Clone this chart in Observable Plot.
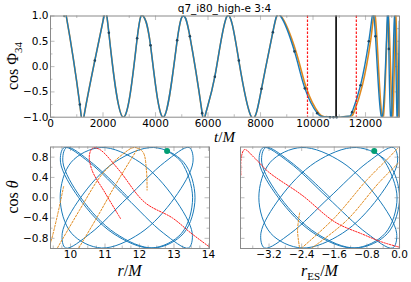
<!DOCTYPE html>
<html><head><meta charset="utf-8">
<script src="https://cdn.jsdelivr.net/npm/d3@7"></script>
<script src="https://cdn.jsdelivr.net/npm/@observablehq/plot@0.6"></script>
<style>
body{margin:0;background:#fff;}
#wrap{position:relative;width:411px;height:282px;overflow:hidden;background:#fff}
#wrap svg{position:absolute;left:0;top:0}
</style></head><body><div id="wrap"></div>
<script>
// ---------- data ----------
// top panel: cos Phi34 vs t/M
const topExtT = [520, 600, 1270, 2040, 2770, 3530, 4300, 5070, 5880, 6730, 7660, 8760, 10420, 11000, 11350, 12255, 12635, 12830, 12990, 13110, 13200, 13290];
const topExtV = [0.99, 1, -1, 1, -1, 1, -1, 1, -1, 1, -1, 1, -0.99, -1, -0.98, 1, -1, 1, -1, 1, -1, 0.9];
const dotT = [1117, 1688, 2222, 3302, 3810, 4826, 5308, 5778, 6260, 7174, 8038, 8470, 9295, 9690, 10160, 10650, 10780, 10900, 11490, 11810, 12126, 12380, 12889];
const dotV = [-0.75, 0.12, 0.67, 0.56, 0.42, 0.52, 0.6, -0.92, -0.2, 0.12, -0.44, 0.68, 0.3, -0.43, -0.92, -1, -1, -1, -0.9, -0.37, 0.5, 0.6, 0.35];
const orgT = [8780, 9350, 9750, 10220, 10480, 10700, 11050, 11420, 11560, 11880, 12190, 12305, 12430, 12680, 12870, 13030, 13150, 13240, 13320];
const orgV = [1, 0.3, -0.43, -0.92, -0.99, -1, -1, -0.98, -0.9, -0.37, 0.5, 1, 0.6, -1, 1, -1, 1, -1, 0.9];
const redT = [9790, 11650];
const blackT = [10880];
const topXTicks = [0, 2000, 4000, 6000, 8000, 10000, 12000];
const topXMinor = [1000, 3000, 5000, 7000, 9000, 11000, 13000];
const topYTicks = [-1, -0.5, 0, 0.5, 1];
const topYMinor = [-0.75, -0.25, 0.25, 0.75];

// bottom panels: orbit in (r, cos theta) and (r_ES, cos theta)
const orbR = [12.80, 13.22, 13.54, 13.22, 12.35, 11.23, 10.24, 9.71, 9.82, 10.54, 11.62, 12.70, 13.42, 13.53, 13.00, 12.01, 10.89, 10.02, 9.70, 10.03, 10.90, 12.02, 13.02, 13.55, 13.44, 12.73, 11.65, 10.58, 9.86, 9.76, 10.29, 11.28, 12.41, 13.28, 13.61, 13.28, 12.41, 11.30, 10.30, 9.78, 9.89, 10.60, 11.68];
const orbRES = [-0.62, -0.35, -0.06, -0.35, -1.11, -2.10, -2.97, -3.44, -3.34, -2.71, -1.76, -0.80, -0.17, -0.07, -0.54, -1.41, -2.40, -3.17, -3.45, -3.16, -2.39, -1.40, -0.52, -0.05, -0.15, -0.78, -1.73, -2.67, -3.31, -3.40, -2.93, -2.06, -1.06, -0.29, 0.00, -0.29, -1.06, -2.04, -2.92, -3.38, -3.28, -2.66, -1.70];
const orbC = [0.92, 0.7, 0, -0.7, -0.99, -0.7, 0, 0.7, 0.99, 0.7, 0, -0.7, -0.99, -0.7, 0, 0.7, 0.99, 0.7, 0, -0.7, -0.99, -0.7, 0, 0.7, 0.99, 0.7, 0, -0.7, -0.99, -0.7, 0, 0.7, 0.99, 0.7, 0, -0.7, -0.99, -0.7, 0, 0.7, 0.99, 0.7, 0];

const orgLSeg = ["a","a","a","a","b","b","b","b","b","b","b","b","c","c","c","c","c"];
const orgLR = [9.80, 9.62, 9.43, 9.36, 9.62, 10.3, 10.9, 11.5, 11.85, 12.1, 12.2, 12.22, 10.24, 10.8, 11.3, 11.7, 11.95];
const orgLC = [0.22, -0.35, -0.87, -1.0, -0.99, -0.2, 0.45, 0.85, 0.99, 0.9, 0.55, 0.15, -0.99, -0.35, 0.25, 0.7, 0.97];
const orgRSeg = ["a","a","a","b","b","b","b","b","c","c","c","c"];
const orgRX = [-2.45, -2.5, -2.45, -2.4, -1.6, -0.8, -0.25, -0.05, -2.15, -1.3, -0.5, 0.02];
const orgRC = [-0.3, -0.65, -0.99, -0.99, -0.4, 0.35, 0.8, 0.97, -0.99, -0.45, 0.3, 0.72];

const redLR = [11.45, 11.0, 10.62, 10.55, 10.65, 10.85, 11.4, 12.15, 12.96, 13.5, 14.05];
const redLC = [-0.41, 0.1, 0.55, 0.85, 0.98, 0.95, 0.55, -0.09, -0.4, -0.7, -0.98];
const redRX = [-3.89, -3.88, -3.8, -3.55, -3.2, -2.39, -1.58, -0.9, -0.44, -0.02];
const redRC = [0.45, 0.8, 0.95, 0.78, 0.5, 0.05, -0.48, -0.72, -0.87, -0.97];

const startR = [12.80], startRES = [-0.62], startC = [0.92];

const leftXTicks = [10, 11, 12, 13, 14];
const leftXMinor = [9.5, 9.75, 10.25, 10.5, 10.75, 11.25, 11.5, 11.75, 12.25, 12.5, 12.75, 13.25, 13.5, 13.75];
const rightXTicks = [-3.2, -2.4, -1.6, -0.8, 0.0];
const rightXMinor = [-3.6, -2.8, -2.0, -1.2, -0.4];
const botYTicks = [-0.8, -0.4, 0.0, 0.4, 0.8];
const botYMinor = [-0.6, -0.2, 0.2, 0.6];

// ---------- styling ----------
const W = 411, H = 282;
const blue = "#1a7ab8", orange = "#e08a1e", red = "#ff1a1a", green = "#029e73";
const tickC = "#c2c2c2", frameC = "#8a8a8a";
const fmt1 = d3.format(".1f");
const svgStyle = {background: "transparent", fontFamily: "DejaVu Sans, sans-serif", fontSize: "10.5px", overflow: "visible"};

function edgeTicks(xMaj, xMin, yMaj, yMin, fw, fh) {
  const o = {stroke: tickC, strokeWidth: 1.1};
  const marks = [];
  for (const [vals, len] of [[xMaj, 4.5], [xMin, 2.5]]) {
    marks.push(Plot.tickX(vals, {x: d => d, insetTop: fh - len, ...o}));
    marks.push(Plot.tickX(vals, {x: d => d, insetBottom: fh - len, ...o}));
  }
  for (const [vals, len] of [[yMaj, 4.5], [yMin, 2.5]]) {
    marks.push(Plot.tickY(vals, {y: d => d, insetRight: fw - len, ...o}));
    marks.push(Plot.tickY(vals, {y: d => d, insetLeft: fw - len, ...o}));
  }
  return marks;
}

// ---------- tables ----------
const topPts = d3.sort(
  topExtT.map((t, i) => ({t, v: topExtV[i]})).concat(dotT.map((t, i) => ({t, v: dotV[i]}))),
  d => d.t);
const dots = dotT.map((t, i) => ({t, v: dotV[i]}));
const orgPts = topPts.filter(d => d.t < 8700).concat(orgT.map((t, i) => ({t, v: orgV[i]})));
const orbit = orbR.map((r, i) => ({r, res: orbRES[i], c: orbC[i]}));
const orgL = orgLR.map((r, i) => ({r, c: orgLC[i], s: orgLSeg[i]}));
const orgR = orgRX.map((x, i) => ({x, c: orgRC[i], s: orgRSeg[i]}));
const redL = redLR.map((r, i) => ({r, c: redLC[i]}));
const redR = redRX.map((x, i) => ({x, c: redRC[i]}));
const startL = startR.map((r, i) => ({r, c: startC[i]}));
const startRt = startRES.map((x, i) => ({x, c: startC[i]}));

const wrap = document.getElementById("wrap");

// ---------- top panel ----------
const topB = 116.7, topT = 15.5;
wrap.appendChild(Plot.plot({
  width: W, height: H,
  marginTop: topT, marginBottom: H - topB, marginLeft: 50, marginRight: 12,
  x: {domain: [0, 13295], axis: null}, y: {domain: [-1, 1], axis: null},
  style: svgStyle,
  marks: [
    ...edgeTicks(topXTicks, topXMinor, topYTicks, topYMinor, 349, topB - topT),
    Plot.line(orgPts, {x: "t", y: "v", curve: "natural", stroke: orange, strokeWidth: 1.6, clip: true}),
    Plot.line(topPts, {x: "t", y: "v", curve: "natural", stroke: blue, strokeWidth: 1.4, clip: true}),
    Plot.dot(dots, {x: "t", y: "v", r: 1.3, fill: "#1f4660", stroke: "none"}),
    Plot.ruleX(redT, {x: d => d, stroke: red, strokeWidth: 1.2, strokeDasharray: "2.5,1.5"}),
    Plot.ruleX(blackT, {x: d => d, stroke: "#1a1a1a", strokeWidth: 1.8}),
    Plot.frame({stroke: frameC, strokeWidth: 1}),
    Plot.axisX(topXTicks, {tickSize: 0, tickPadding: 2, tickFormat: d => String(d), label: null}),
    Plot.axisY(topYTicks, {tickSize: 0, tickPadding: 2, tickFormat: fmt1, label: null})
  ]
}));

// ---------- bottom panels ----------
const botT = 146.5, botB = 248;
wrap.appendChild(Plot.plot({
  width: W, height: H,
  marginTop: botT, marginBottom: H - botB, marginLeft: 50, marginRight: W - 209,
  x: {domain: [9.42, 14.03], axis: null}, y: {domain: [-1, 1], axis: null},
  style: svgStyle,
  marks: [
    ...edgeTicks(leftXTicks, leftXMinor, botYTicks, botYMinor, 159, botB - botT),
    Plot.line(orbit, {x: "r", y: "c", curve: "catmull-rom", stroke: blue, strokeWidth: 1, clip: true}),
    Plot.line(orgL, {x: "r", y: "c", z: "s", curve: "catmull-rom", stroke: orange, strokeWidth: 1, strokeDasharray: "2,1.6", clip: true}),
    Plot.line(redL, {x: "r", y: "c", curve: "catmull-rom", stroke: red, strokeWidth: 1, strokeDasharray: "1.4,1.4", clip: true}),
    Plot.dot(startL, {x: "r", y: "c", r: 3, fill: green, stroke: "none"}),
    Plot.frame({stroke: frameC, strokeWidth: 1}),
    Plot.axisX(leftXTicks, {tickSize: 0, tickPadding: 2, tickFormat: d => String(d), label: null}),
    Plot.axisY(botYTicks, {tickSize: 0, tickPadding: 2, tickFormat: fmt1, label: null})
  ]
}));

wrap.appendChild(Plot.plot({
  width: W, height: H,
  marginTop: botT, marginBottom: H - botB, marginLeft: 240, marginRight: 12,
  x: {domain: [-3.9, 0], axis: null}, y: {domain: [-1, 1], axis: null},
  style: svgStyle,
  marks: [
    ...edgeTicks(rightXTicks, rightXMinor, botYTicks, botYMinor, 159, botB - botT),
    Plot.line(orbit, {x: "res", y: "c", curve: "catmull-rom", stroke: blue, strokeWidth: 1, clip: true}),
    Plot.line(orgR, {x: "x", y: "c", z: "s", curve: "catmull-rom", stroke: orange, strokeWidth: 1, strokeDasharray: "2,1.6", clip: true}),
    Plot.line(redR, {x: "x", y: "c", curve: "catmull-rom", stroke: red, strokeWidth: 1, strokeDasharray: "1.4,1.4", clip: true}),
    Plot.dot(startRt, {x: "x", y: "c", r: 3, fill: green, stroke: "none"}),
    Plot.frame({stroke: frameC, strokeWidth: 1}),
    Plot.axisX(rightXTicks, {tickSize: 0, tickPadding: 2, tickFormat: fmt1, label: null})
  ]
}));

// ---------- text labels ----------
const ov = d3.create("svg").attr("width", W).attr("height", H);
const serif = "Liberation Serif, DejaVu Serif, serif";
ov.append("text").attr("x", 224.5).attr("y", 11.5).attr("text-anchor", "middle")
  .attr("font-family", "DejaVu Sans, sans-serif").attr("font-size", 10.5).text("q7_i80_high-e 3:4");

function mathText(x, y, parts, rotate, fs) {
  const t = ov.append("text").attr("text-anchor", "middle")
    .attr("font-family", serif).attr("font-size", fs || 16)
    .attr("transform", `translate(${x},${y})` + (rotate ? " rotate(-90)" : ""));
  for (const p of parts) {
    const s = t.append("tspan").text(p.t);
    if (p.i) s.attr("font-style", "italic");
    if (p.fs) s.attr("font-size", p.fs);
    if (p.dy) s.attr("dy", p.dy);
  }
}
mathText(224.5, 142, [{t: "t", i: 1}, {t: "/"}, {t: "M", i: 1}], false, 15);
mathText(129.5, 276, [{t: "r", i: 1}, {t: "/"}, {t: "M", i: 1}]);
mathText(319.5, 276, [{t: "r", i: 1}, {t: "ES", fs: 11, dy: 3.5}, {t: "/", dy: -3.5}, {t: "M", i: 1}]);
mathText(18, 66, [{t: "cos "}, {t: "Φ"}, {t: "34", fs: 11, dy: 3.5}], true);
mathText(18, 197, [{t: "cos "}, {t: "θ", i: 1}], true);
wrap.appendChild(ov.node());
</script></body></html>
